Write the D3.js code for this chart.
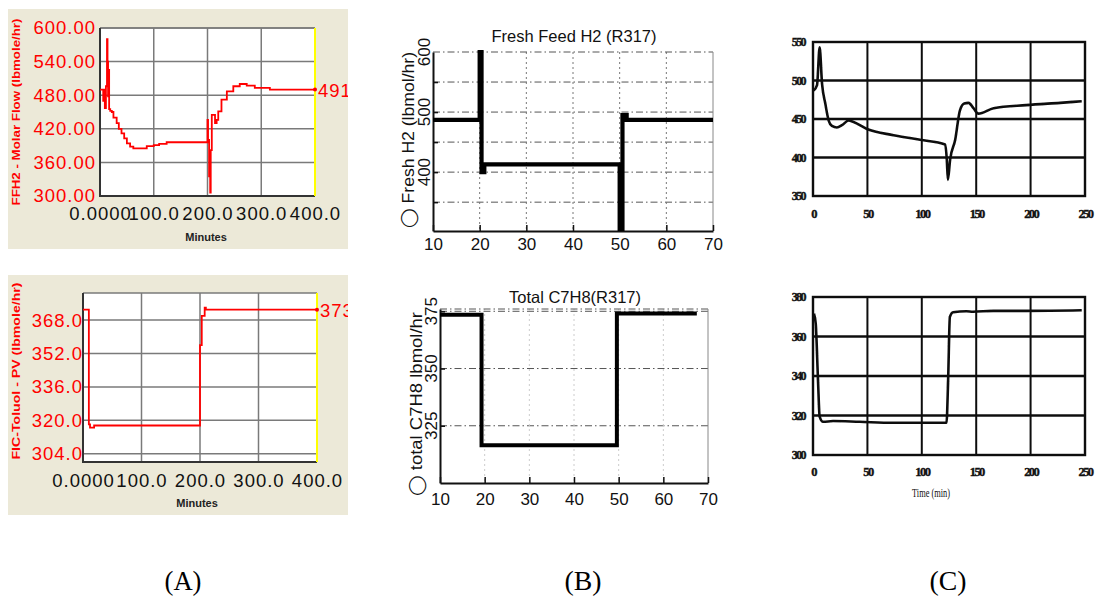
<!DOCTYPE html>
<html>
<head>
<meta charset="utf-8">
<script src="https://cdn.jsdelivr.net/npm/d3@7"></script>
<style>
  body { margin: 0; background: #fff; }
</style>
</head>
<body>
<svg></svg>
<script>
// ---- data ----
// (A) top: FFH2 molar flow, HYSYS strip chart
const a1Time = [0, 4, 6, 8, 9, 11, 13, 14, 15, 16, 17, 19, 22, 25, 31, 35, 40, 45, 50, 56, 62, 80, 87, 100, 110, 124,
                199, 200, 201, 203, 205, 206, 208, 211, 214, 217, 220, 226, 236, 248, 260, 273, 288, 316, 400];
const a1Flow = [490, 490, 470, 490, 457, 496, 580, 540, 478, 525, 455, 452, 450, 440, 430, 420, 412, 403, 394, 388, 385, 385, 389, 391, 393, 396,
                396, 436, 400, 335, 306, 382, 445, 445, 430, 436, 451, 472, 487, 496, 500, 497, 493, 490, 490];
const a1YTicks = [300, 360, 420, 480, 540, 600];
// (A) bottom: FIC-Toluol PV
const a2Time = [0, 10, 12, 19, 200, 203, 208, 210, 400];
const a2Flow = [373, 318, 316.5, 317.5, 356, 370, 374, 373, 373];
const a2YTicks = [304, 320, 336, 352, 368];
const aXTicks = [0, 100, 200, 300, 400];
const aXLabels = ["0.0000", "100.0", "200.0", "300.0", "400.0"];

// (B) top: Fresh Feed H2
const b1Time = [10, 20, 20.4, 21, 50, 50.6, 51.5, 70];
const b1Flow = [487, 600, 400, 413, 303, 495, 487, 487];
// (B) bottom: Total C7H8
const b2Time = [10, 19.3, 49.6, 67.5];
const b2Flow = [373.5, 316.5, 374, 374];
const bXTicks = [10, 20, 30, 40, 50, 60, 70];

// (C) top
const c1Time = [0.6, 3.7, 6.1, 8.3, 11.3, 14.4, 17.4, 22, 26.6, 32.7, 37.3, 49.6, 74, 98.5, 121.5, 123, 124, 126,
                130.7, 135, 139, 143, 147.5, 152, 166, 196, 227, 247];
const c1Flow = [487, 494, 543, 496, 470, 448, 441, 439, 442, 448, 446, 437, 429, 423, 417, 397, 371, 397,
                423, 461, 470, 471, 464, 457, 464, 468, 471, 473];
// (C) bottom
const c2Time = [0.9, 2.5, 4.6, 6.1, 9.2, 18.4, 43, 73.6, 104, 122.7, 124.2, 125.8, 128.8, 141, 147, 165.6, 196, 247];
const c2Flow = [371.6, 366.5, 337.9, 319.4, 316.8, 317.2, 316.8, 316.3, 316.3, 316.3, 337.9, 369.9, 372.3, 372.8, 372.5, 373, 373, 373.3];
const cXTicks = [0, 50, 100, 150, 200, 250];

const panelLabels = ["(A)", "(B)", "(C)"];

const svg = d3.select('svg').attr('width', 1097).attr('height', 599);
const defs = svg.append('defs');
defs.append('filter').attr('id', 'soft')
    .append('feGaussianBlur').attr('stdDeviation', 0.55);

let clipId = 0;
function addClip(x, y, w, h) {
    let id = 'clip' + (clipId++);
    defs.append('clipPath').attr('id', id)
        .append('rect').attr('x', x).attr('y', y).attr('width', w).attr('height', h);
    return 'url(#' + id + ')';
}

const aFont = '18.5px "Liberation Sans", Arial, sans-serif';

// ---- (A) HYSYS style panels ----
function drawA(c) {
    let g = svg.append('g').attr('clip-path', addClip(c.box[0], c.box[1], c.box[2], c.box[3]));
    g.append('rect').attr('x', c.box[0]).attr('y', c.box[1])
        .attr('width', c.box[2]).attr('height', c.box[3]).attr('fill', '#ece9d8');

    let x = d3.scaleLinear().domain([0, 400]).range([c.left, c.right]);
    let y = d3.scaleLinear().domain(c.yDomain).range([c.bottom, c.top]);

    g.append('rect').attr('x', c.left).attr('y', c.top)
        .attr('width', c.right - c.left).attr('height', c.bottom - c.top).attr('fill', '#fff');

    // grid
    g.selectAll('.vg').data(aXTicks.slice(1, -1)).enter().append('line')
        .attr('x1', d => x(d)).attr('x2', d => x(d)).attr('y1', c.top).attr('y2', c.bottom)
        .attr('stroke', '#7a7a7a').attr('stroke-width', 1.5);
    g.selectAll('.hg').data(c.yTicks.concat([c.yDomain[1]])).enter().append('line')
        .attr('x1', c.left).attr('x2', c.right).attr('y1', d => y(d)).attr('y2', d => y(d))
        .attr('stroke', '#7a7a7a').attr('stroke-width', 1.5);

    // frame
    g.append('line').attr('x1', c.left).attr('x2', c.left).attr('y1', c.top).attr('y2', c.bottom + 1)
        .attr('stroke', '#333').attr('stroke-width', 2);
    g.append('line').attr('x1', c.left).attr('x2', c.right).attr('y1', c.bottom).attr('y2', c.bottom)
        .attr('stroke', '#333').attr('stroke-width', 2);
    g.append('line').attr('x1', c.right).attr('x2', c.right).attr('y1', c.top).attr('y2', c.bottom)
        .attr('stroke', '#ffff00').attr('stroke-width', 2);

    // series
    let line = d3.line().x(d => x(d[0])).y(d => y(d[1])).curve(d3.curveStepAfter);
    let pts = d3.zip(c.time, c.values);
    g.append('path').attr('d', line(pts)).attr('fill', 'none')
        .attr('stroke', '#ff0000').attr('stroke-width', 1.8)
        .attr('clip-path', addClip(c.left, c.top, c.right - c.left, c.bottom - c.top));
    let last = pts[pts.length - 1];
    g.append('circle').attr('cx', x(last[0])).attr('cy', y(last[1])).attr('r', 2).attr('fill', '#ff0000');
    g.append('text').attr('x', c.right + 3).attr('y', y(last[1]) + 7)
        .attr('fill', '#ff0000').style('font', aFont).style('letter-spacing', '1px')
        .text(c.endLabel);

    // axes
    let ax = g.append('g').attr('transform', 'translate(0,' + c.bottom + ')')
        .call(d3.axisBottom(x).tickValues(aXTicks).tickSize(0).tickPadding(c.xPad)
            .tickFormat((d, i) => aXLabels[i]));
    ax.select('.domain').remove();
    ax.selectAll('text').attr('fill', '#111').style('font', aFont).style('letter-spacing', '1px');

    let ay = g.append('g').attr('transform', 'translate(' + c.left + ',0)')
        .call(d3.axisLeft(y).tickValues(c.yTicks).tickSize(0).tickPadding(c.yPad)
            .tickFormat(d3.format(c.yFmt)));
    ay.select('.domain').remove();
    ay.selectAll('text').attr('fill', '#ff0000').style('font', aFont).style('letter-spacing', '1px');

    g.append('text').attr('transform', 'translate(' + c.titleX + ',' + c.titleY + ') rotate(-90)')
        .attr('text-anchor', 'middle').attr('fill', '#ff0000')
        .attr('textLength', c.titleLen).attr('lengthAdjust', 'spacingAndGlyphs')
        .style('font', 'bold 10.5px "Liberation Sans", Arial, sans-serif')
        .text(c.yTitle);
    g.append('text').attr('x', c.minX).attr('y', c.minY).attr('text-anchor', 'middle')
        .attr('fill', '#222').style('font', 'bold 11px "Liberation Sans", Arial, sans-serif')
        .text('Minutes');
}

drawA({
    box: [8, 9, 340, 240], left: 100, right: 315, top: 28, bottom: 196,
    yDomain: [300, 600], yTicks: a1YTicks, yFmt: '.2f', xPad: 11, yPad: 4,
    time: a1Time, values: a1Flow, endLabel: '491',
    yTitle: 'FFH2 - Molar Flow (lbmole/hr)', titleX: 20, titleY: 112, titleLen: 187,
    minX: 206, minY: 241
});
drawA({
    box: [8, 275, 340, 240], left: 83, right: 317, top: 293, bottom: 462,
    yDomain: [300, 381], yTicks: a2YTicks, yFmt: '.1f', xPad: 12, yPad: 0,
    time: a2Time, values: a2Flow, endLabel: '373',
    yTitle: 'FIC-Toluol - PV (lbmole/hr)', titleX: 20, titleY: 371, titleLen: 177,
    minX: 197, minY: 507
});

// ---- (B) MATLAB style panels ----
function drawB(c) {
    let g = svg.append('g');
    let x = d3.scaleLinear().domain([10, 70]).range([c.left, c.right]);
    let y = d3.scaleLinear().domain(c.yDomain).range([c.bottom, c.top]);
    const font = '"Liberation Sans", Arial, sans-serif';

    // dash-dot grid
    g.selectAll('.hg').data(c.grid).enter().append('line')
        .attr('x1', c.left).attr('x2', c.right).attr('y1', d => y(d)).attr('y2', d => y(d))
        .attr('stroke', '#555').attr('stroke-width', 1).attr('stroke-dasharray', '7,3,1.5,3');
    g.selectAll('.vg').data(bXTicks.slice(1, -1)).enter().append('line')
        .attr('x1', d => x(d)).attr('x2', d => x(d)).attr('y1', c.top).attr('y2', c.bottom)
        .attr('stroke', c.vGridColor).attr('stroke-width', 1).attr('stroke-dasharray', '2,3');
    g.append('line').attr('x1', c.left).attr('x2', c.right).attr('y1', c.top).attr('y2', c.top)
        .attr('stroke', '#555').attr('stroke-width', 1).attr('stroke-dasharray', '7,3,1.5,3');
    g.append('line').attr('x1', c.right).attr('x2', c.right).attr('y1', c.top).attr('y2', c.bottom)
        .attr('stroke', '#888').attr('stroke-width', 1);

    // axes
    let ax = g.append('g').attr('transform', 'translate(0,' + c.bottom + ')')
        .call(d3.axisBottom(x).tickValues(bXTicks).tickSizeInner(-6).tickSizeOuter(0).tickPadding(c.xPad));
    ax.select('.domain').attr('stroke', '#111').attr('stroke-width', 2);
    ax.selectAll('line').attr('stroke', '#111').attr('stroke-width', 1.5);
    ax.selectAll('text').attr('fill', '#111').style('font', '17px ' + font);

    let ay = g.append('g').attr('transform', 'translate(' + c.left + ',0)')
        .call(d3.axisLeft(y).tickValues(c.grid).tickSizeInner(-5).tickSizeOuter(0).tickFormat(''));
    ay.select('.domain').attr('stroke', '#111').attr('stroke-width', 2);
    ay.selectAll('line').attr('stroke', '#111').attr('stroke-width', 1.5);

    g.selectAll('.yl').data(c.yLabels).enter().append('text')
        .attr('transform', d => 'translate(' + c.labelX + ',' + y(d) + ') rotate(-90)')
        .attr('text-anchor', 'middle').attr('fill', '#111').style('font', '17px ' + font)
        .text(d => d);

    // series
    let line = d3.line().x(d => x(d[0])).y(d => y(d[1])).curve(d3.curveStepAfter);
    g.append('path').attr('d', line(d3.zip(c.time, c.values))).attr('fill', 'none')
        .attr('stroke', '#000').attr('stroke-width', c.lineW).attr('stroke-linejoin', 'miter')
        .attr('clip-path', addClip(c.left - 3, c.top - 3, c.right - c.left + 6, c.bottom - c.top + 3));

    g.append('text').attr('x', (c.left + c.right) / 2 + 1).attr('y', c.titleY).attr('text-anchor', 'middle')
        .attr('fill', '#111').style('font', '16.5px ' + font).text(c.title);
    g.append('text').attr('transform', 'translate(' + c.yTitleX + ',' + c.yTitleY + ') rotate(-90)')
        .attr('text-anchor', 'middle').attr('fill', '#111')
        .attr('textLength', c.yTitleLen).attr('lengthAdjust', 'spacingAndGlyphs')
        .style('font', '17px ' + font).text(c.yTitle);
}

drawB({
    left: 433, right: 713, top: 52, bottom: 231, yDomain: [302, 600],
    grid: [350, 400, 450, 500, 550], yLabels: [400, 500, 600], labelX: 430, xPad: 7,
    time: b1Time, values: b1Flow, lineW: 4.2, vGridColor: '#777',
    title: 'Fresh Feed H2 (R317)', titleY: 42,
    yTitle: '\u25EF Fresh H2 (lbmol/hr)', yTitleX: 414, yTitleY: 140, yTitleLen: 176
});
drawB({
    left: 440, right: 708, top: 309, bottom: 483, yDomain: [300, 376],
    grid: [325, 350, 375], yLabels: [325, 350, 375], labelX: 437, xPad: 10,
    time: b2Time, values: b2Flow, lineW: 4, vGridColor: '#ccc',
    title: 'Total C7H8(R317)', titleY: 303,
    yTitle: '\u25EF total C7H8 lbmol/hr', yTitleX: 422, yTitleY: 404, yTitleLen: 184
});

// ---- (C) scanned paper panels ----
function drawC(c) {
    let g = svg.append('g');
    let marks = g.append('g').attr('filter', 'url(#soft)');
    let x = d3.scaleLinear().domain([0, 250]).range([c.left, c.right]);
    let y = d3.scaleLinear().domain(c.yDomain).range([c.bottom, c.top]);
    const font = '"Liberation Serif", "DejaVu Serif", serif';

    marks.selectAll('.hg').data(c.yTicks.slice(1, -1)).enter().append('line')
        .attr('x1', c.left).attr('x2', c.right).attr('y1', d => y(d)).attr('y2', d => y(d))
        .attr('stroke', '#111').attr('stroke-width', 2.6);
    marks.selectAll('.vg').data(cXTicks.slice(1, -1)).enter().append('line')
        .attr('x1', d => x(d)).attr('x2', d => x(d)).attr('y1', c.top).attr('y2', c.bottom)
        .attr('stroke', '#111').attr('stroke-width', 2);
    marks.append('rect').attr('x', c.left).attr('y', c.top)
        .attr('width', c.right - c.left).attr('height', c.bottom - c.top)
        .attr('fill', 'none').attr('stroke', '#111').attr('stroke-width', 2.4);

    let line = d3.line().x(d => x(d[0])).y(d => y(d[1])).curve(d3.curveMonotoneX);
    marks.append('path').attr('d', line(d3.zip(c.time, c.values))).attr('fill', 'none')
        .attr('stroke', '#111').attr('stroke-width', 2.6);

    let ax = g.append('g').attr('transform', 'translate(0,' + c.bottom + ')')
        .call(d3.axisBottom(x).tickValues(cXTicks).tickSize(0).tickPadding(c.xPad));
    ax.select('.domain').remove();
    ax.selectAll('text').attr('fill', '#111').attr('stroke', '#111').attr('stroke-width', 0.4)
        .style('font', 'bold 12.5px ' + font).style('letter-spacing', '-1.6px');

    let ay = g.append('g').attr('transform', 'translate(' + c.left + ',0)')
        .call(d3.axisLeft(y).tickValues(c.yTicks).tickSize(0).tickPadding(8));
    ay.select('.domain').remove();
    ay.selectAll('text').attr('fill', '#111').attr('stroke', '#111').attr('stroke-width', 0.4)
        .style('font', 'bold 12px ' + font).style('letter-spacing', '-1.6px');

    if (c.xTitle) {
        g.append('text').attr('x', 931).attr('y', c.xTitleY).attr('text-anchor', 'middle')
            .attr('fill', '#111').attr('textLength', 38).attr('lengthAdjust', 'spacingAndGlyphs')
            .style('font', '13.5px ' + font).text(c.xTitle);
    }
}

drawC({
    left: 813, right: 1085, top: 42, bottom: 196, yDomain: [350, 550],
    yTicks: [350, 400, 450, 500, 550], xPad: 13, time: c1Time, values: c1Flow
});
drawC({
    left: 813, right: 1085, top: 297, bottom: 455, yDomain: [300, 380],
    yTicks: [300, 320, 340, 360, 380], xPad: 12, time: c2Time, values: c2Flow,
    xTitle: 'Time (min)', xTitleY: 497
});

// ---- panel captions ----
svg.selectAll('.cap').data(panelLabels).enter().append('text')
    .attr('x', (d, i) => [183, 583, 948][i]).attr('y', 590)
    .attr('text-anchor', 'middle').attr('fill', '#000')
    .attr('textLength', 37).attr('lengthAdjust', 'spacingAndGlyphs')
    .style('font', '27px "Liberation Serif", "Times New Roman", serif')
    .text(d => d);
</script>
</body>
</html>
